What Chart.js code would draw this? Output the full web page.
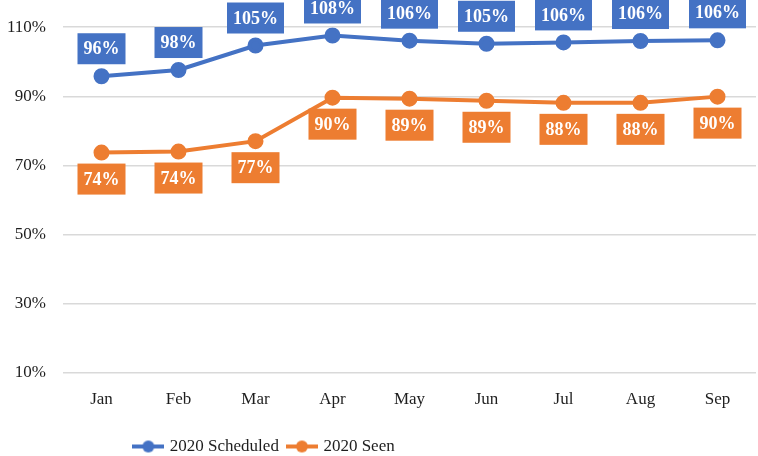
<!DOCTYPE html>
<html lang="en">
<head>
  <meta charset="UTF-8">
  <title>2020 Scheduled vs Seen</title>
  <script src="https://cdn.jsdelivr.net/npm/chart.js@4/dist/chart.umd.min.js"></script>
  <style>
    body { margin: 0; background: #fff; }
    #wrap { width: 758px; height: 456px; }
  </style>
</head>
<body>
  <div id="wrap"><canvas id="myChart"></canvas></div>
  <script>
    // data
    const months = ["Jan", "Feb", "Mar", "Apr", "May", "Jun", "Jul", "Aug", "Sep"];
    const scheduled = [95.8, 97.6, 104.7, 107.6, 106.1, 105.2, 105.6, 106.0, 106.2];
    const seen = [73.7, 74.0, 77.0, 89.6, 89.3, 88.7, 88.1, 88.1, 89.9];
    const seriesNames = ["2020 Scheduled", "2020 Seen"];
    const yTicks = [10, 30, 50, 70, 90, 110];

    const BLUE = "#4472C4";
    const ORANGE = "#ED7D31";
    const TEXT = "#1e1e1e";
    const FONT = "'Liberation Serif', 'Times New Roman', serif";

    // legend marker: line with a dot
    function legendMarker(color) {
      const c = document.createElement("canvas");
      c.width = 32; c.height = 14;
      const g = c.getContext("2d");
      g.strokeStyle = color; g.lineWidth = 4;
      g.beginPath(); g.moveTo(0, 7); g.lineTo(32, 7); g.stroke();
      g.fillStyle = color;
      g.beginPath(); g.arc(16, 7, 6, 0, Math.PI * 2); g.fill();
      return c;
    }

    // boxed value labels: first series above the point, second below
    const boxLabels = {
      id: "boxLabels",
      afterDatasetsDraw(chart) {
        const ctx = chart.ctx;
        ctx.save();
        ctx.font = "bold 18px " + FONT;
        ctx.textAlign = "center";
        ctx.textBaseline = "middle";
        chart.data.datasets.forEach((ds, i) => {
          const meta = chart.getDatasetMeta(i);
          meta.data.forEach((pt, j) => {
            const txt = Math.round(ds.data[j]) + "%";
            const w = ctx.measureText(txt).width + 12;
            const h = 31;
            const top = i === 0 ? pt.y - 12 - h : pt.y + 11;
            ctx.fillStyle = ds.borderColor;
            ctx.fillRect(pt.x - w / 2, top, w, h);
            ctx.fillStyle = "#fff";
            ctx.fillText(txt, pt.x, top + h / 2 + 1);
          });
        });
        ctx.restore();
      }
    };

    // legend sits left of centre and a bit lower in the original
    const shiftLegend = {
      id: "shiftLegend",
      afterLayout(chart) {
        chart.legend.left -= 113;
        chart.legend.right -= 113;
        chart.legend.top += 9;
        chart.legend.bottom += 9;
      }
    };

    new Chart(document.getElementById("myChart"), {
      type: "line",
      data: {
        labels: months,
        datasets: [
          {
            label: seriesNames[0],
            data: scheduled,
            borderColor: BLUE,
            backgroundColor: BLUE,
            borderWidth: 4,
            pointRadius: 6,
            pointStyle: "circle",
          },
          {
            label: seriesNames[1],
            data: seen,
            borderColor: ORANGE,
            backgroundColor: ORANGE,
            borderWidth: 4,
            pointRadius: 6,
            pointStyle: "circle",
          },
        ],
      },
      options: {
        responsive: true,
        maintainAspectRatio: false,
        animation: false,
        layout: { autoPadding: false, padding: { top: 22, right: 2, left: 0, bottom: 0 } },
        scales: {
          x: {
            offset: true,
            grid: { display: false },
            border: { display: false },
            ticks: { color: TEXT, font: { family: FONT, size: 17 }, padding: 9 },
          },
          y: {
            min: 10,
            max: 110,
            afterBuildTicks(axis) { axis.ticks = yTicks.map(v => ({ value: v })); },
            afterFit(axis) { axis.width = 63; },
            grid: { color: "#d9d9d9", lineWidth: 1.5, drawTicks: false },
            border: { display: false },
            ticks: {
              color: TEXT,
              font: { family: FONT, size: 17 },
              padding: 17,
              callback: v => v + "%",
            },
          },
        },
        plugins: {
          tooltip: { enabled: false },
          legend: {
            position: "bottom",
            labels: {
              color: TEXT,
              font: { family: FONT, size: 17 },
              usePointStyle: true,
              pointStyleWidth: 26,
              padding: 10,
              generateLabels(chart) {
                return chart.data.datasets.map((ds, i) => ({
                  text: ds.label,
                  pointStyle: legendMarker(ds.borderColor),
                  fillStyle: ds.borderColor,
                  strokeStyle: ds.borderColor,
                  fontColor: TEXT,
                  lineWidth: 0,
                  hidden: false,
                  datasetIndex: i,
                }));
              },
            },
          },
        },
      },
      plugins: [boxLabels, shiftLegend],
    });
  </script>
</body>
</html>
